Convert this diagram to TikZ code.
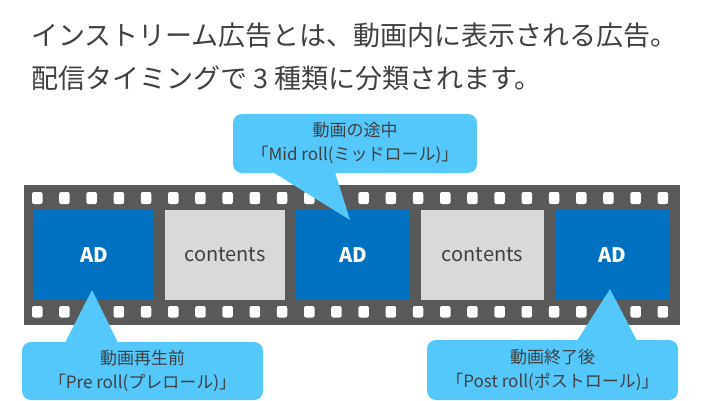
\documentclass[tikz,border=0pt]{standalone}
\usepackage{fontspec}
\setmainfont{Noto Sans CJK JP}
\usepackage{xcolor}
\usetikzlibrary{positioning}

\definecolor{filmgray}{HTML}{595959}
\definecolor{adblue}{HTML}{0070C0}
\definecolor{contgray}{HTML}{D9D9D9}
\definecolor{tipblue}{HTML}{55C8FB}
\definecolor{textgray}{HTML}{404040}

\begin{document}
\begin{tikzpicture}[
    x=1pt, y=-1pt,
    node distance=11pt,
    frame/.style={minimum height=90pt, inner sep=0pt, outer sep=0pt},
    adframe/.style={frame, fill=adblue, text=white, font=\fontsize{20}{20}\selectfont\bfseries},
    contframe/.style={frame, fill=contgray, text=textgray, font=\fontsize{20}{20}\selectfont},
    callout/.style={fill=tipblue, rounded corners=9pt, text=textgray, align=center, inner sep=0pt, font=\fontsize{17}{24}\selectfont},
    hole/.style={fill=white, rounded corners=2pt},
    title/.style={anchor=west, text=textgray, inner sep=0pt, font=\fontsize{27}{27}\selectfont}
]
\useasboundingbox (0,0) rectangle (701,401);

% heading
\node[title] (line1) at (31,35) {インストリーム広告とは、動画内に表示される広告。};
\node[title] (line2) at (31,78) {配信タイミングで 3 種類に分類されます。};

% film strip
\node[fill=filmgray, minimum width=656pt, minimum height=140pt, inner sep=0pt] (film) at (352,255) {};
\foreach \i in {0,...,23} {
    \fill[hole] ({32+27.2*\i},192) rectangle ++(10.5,12);
    \fill[hole] ({32+27.2*\i},306) rectangle ++(10.5,11.5);
}

\node[adframe, minimum width=120pt, anchor=north west] (ad1) at (34,210) {AD};
\node[contframe, minimum width=120pt, right=of ad1] (cont1) {contents};
\node[adframe, minimum width=114pt, right=of cont1] (ad2) {AD};
\node[contframe, minimum width=123pt, right=of ad2] (cont2) {contents};
\node[adframe, minimum width=113pt, right=11.5pt of cont2] (ad3) {AD};

% callouts
\node[callout, minimum width=244pt, minimum height=59pt] (midcall) at (355,143.5) {動画の途中\\「Mid roll(ミッドロール)」};
\node[callout, minimum width=241pt, minimum height=58pt] (precall) at (142.5,371) {動画再生前\\「Pre roll(プレロール)」};
\node[callout, minimum width=251pt, minimum height=60pt] (postcall) at (552.5,370) {動画終了後\\「Post roll(ポストロール)」};

\coordinate (midtip) at (350,220);
\coordinate (pretip) at (92,290);
\coordinate (posttip) at (610,289);

\fill[tipblue] ([xshift=-82pt, yshift=1pt]midcall.south) -- (midtip) -- ([xshift=-20pt, yshift=1pt]midcall.south) -- cycle;
\fill[tipblue] ([xshift=-77.5pt, yshift=-1pt]precall.north) -- (pretip) -- ([xshift=-24.5pt, yshift=-1pt]precall.north) -- cycle;
\fill[tipblue] ([xshift=24.5pt, yshift=-1pt]postcall.north) -- (posttip) -- ([xshift=84.5pt, yshift=-1pt]postcall.north) -- cycle;
\end{tikzpicture}
\end{document}
